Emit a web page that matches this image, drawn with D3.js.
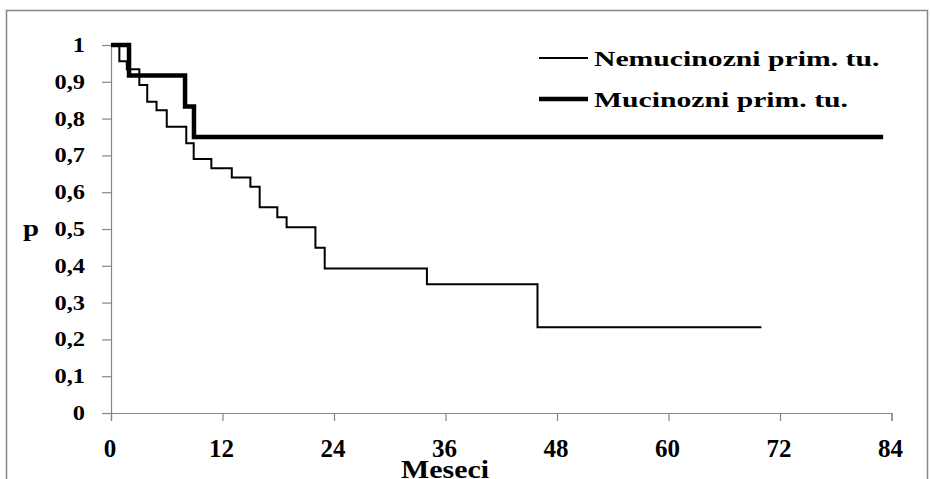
<!DOCTYPE html>
<html>
<head>
<meta charset="utf-8">
<script src="https://cdn.jsdelivr.net/npm/d3@7/dist/d3.min.js"></script>
<style>
  html, body { margin: 0; padding: 0; background: #fff; }
  svg { display: block; }
  text { font-family: "Liberation Serif", "Times New Roman", serif; font-weight: bold; fill: #000; }
</style>
</head>
<body>
<svg id="chart" width="931" height="479"></svg>
<script>
// Kaplan-Meier survival estimates (time in months, survival probability)
const nonMucinousTimes = [0, 0.9, 1.7, 3.05, 3.9, 4.9, 6, 8.1, 8.9, 10.8, 13, 15, 16, 17.9, 18.9, 22, 23, 34, 45.9, 70];
const nonMucinousSurv  = [1, 0.956, 0.934, 0.891, 0.846, 0.823, 0.778, 0.733, 0.69, 0.665, 0.64, 0.615, 0.559, 0.532, 0.505, 0.449, 0.393, 0.35, 0.233, 0.233];
const mucinousTimes = [0, 1.94, 7.97, 8.93, 83.1];
const mucinousSurv  = [1, 0.917, 0.833, 0.75, 0.75];

const seriesNames = ["Nemucinozni prim. tu.", "Mucinozni prim. tu."];
const xTicks = [0, 12, 24, 36, 48, 60, 72, 84];
const yTicks = [0, 0.1, 0.2, 0.3, 0.4, 0.5, 0.6, 0.7, 0.8, 0.9, 1];
const xTitle = "Meseci";
const yTitle = "p";

const svg = d3.select("#chart");
const axisColor = "#868686";

// outer chart frame
svg.append("rect")
  .attr("x", 6.5).attr("y", 10.5)
  .attr("width", 921).attr("height", 480)
  .attr("fill", "none").attr("stroke", axisColor).attr("stroke-width", 1.5);

const x = d3.scaleLinear().domain([0, 84]).range([111, 891.5]);
const y = d3.scaleLinear().domain([0, 1]).range([413, 45]);

const fmt = v => (v === 0 || v === 1) ? String(v) : v.toFixed(1).replace(".", ",");

// horizontally widened label placed at an anchor point
function wideText(parent, px, py, str, size, sx, anchor) {
  return parent.append("text")
    .attr("transform", `translate(${px},${py}) scale(${sx},1)`)
    .attr("text-anchor", anchor)
    .attr("font-size", size)
    .text(str);
}

// y axis (line + ticks from d3, labels placed separately)
const gy = svg.append("g").attr("transform", `translate(${x(0)},0)`)
  .call(d3.axisLeft(y).tickValues(yTicks).tickSize(9).tickFormat(""));
gy.select(".domain").attr("stroke", axisColor).attr("stroke-width", 1.2);
gy.selectAll(".tick line").attr("stroke", axisColor).attr("stroke-width", 1.2);
gy.selectAll(".tick text").remove();
yTicks.forEach(v => wideText(svg, 85, y(v) + 7, fmt(v), 20, 1.22, "end"));

// x axis
const gx = svg.append("g").attr("transform", `translate(0,${y(0)})`)
  .call(d3.axisBottom(x).tickValues(xTicks).tickSize(8).tickFormat(""));
gx.select(".domain").attr("stroke", axisColor).attr("stroke-width", 1.2);
gx.selectAll(".tick line").attr("stroke", axisColor).attr("stroke-width", 1.2);
gx.selectAll(".tick text").remove();
xTicks.forEach(v => wideText(svg, x(v) - 1, 457, String(v), 25, 1.0, "middle"));

// axis titles
wideText(svg, 445, 478, xTitle, 26, 1.15, "middle");
wideText(svg, 31, 236, yTitle, 24, 1.2, "middle");

// survival step curves
const line = d3.line()
  .x(d => x(d[0]))
  .y(d => y(d[1]))
  .curve(d3.curveStepAfter);

const nonMucinous = nonMucinousTimes.map((t, i) => [t, nonMucinousSurv[i]]);
const mucinous = mucinousTimes.map((t, i) => [t, mucinousSurv[i]]);

svg.append("path")
  .datum(nonMucinous)
  .attr("d", line)
  .attr("fill", "none").attr("stroke", "#000").attr("stroke-width", 2);

svg.append("path")
  .datum(mucinous)
  .attr("d", line)
  .attr("fill", "none").attr("stroke", "#000").attr("stroke-width", 4.5);

// legend
const legend = svg.append("g");
const legendRows = [
  { name: seriesNames[0], width: 2, y: 58 },
  { name: seriesNames[1], width: 4.5, y: 99 }
];
legendRows.forEach(r => {
  legend.append("line")
    .attr("x1", 539).attr("x2", 588)
    .attr("y1", r.y).attr("y2", r.y)
    .attr("stroke", "#000").attr("stroke-width", r.width);
  wideText(legend, 594, r.y + 8, r.name, 22, 1.35, "start");
});
</script>
</body>
</html>
